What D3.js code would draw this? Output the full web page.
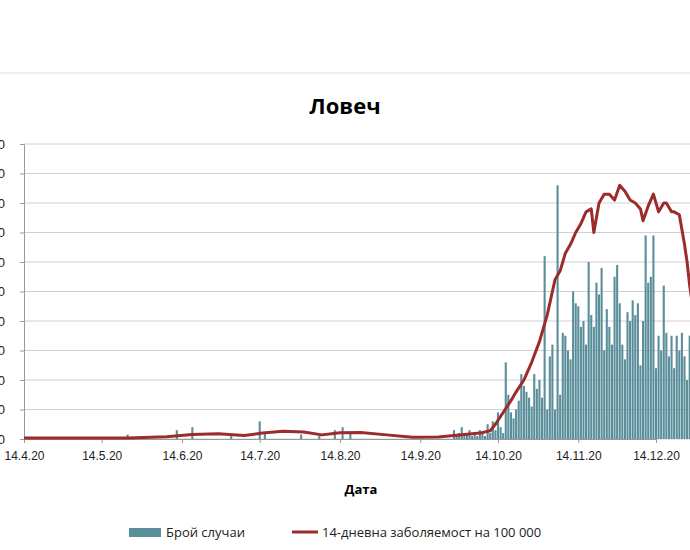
<!DOCTYPE html>
<html><head><meta charset="utf-8">
<script src="https://cdn.jsdelivr.net/npm/d3@7"></script>
<style>body{margin:0;background:#fff}svg{display:block;font-family:"Open Sans",Arial,sans-serif}</style>
</head><body><svg id="c" width="690" height="550"></svg>
<script>
const title = "Ловеч";
const xTitle = "Дата";
const seriesNames = ["Брой случаи", "14-дневна заболяемост на 100 000"];
const startDate = new Date(2020, 3, 14);
const tickDates = ["14.4.20","14.5.20","14.6.20","14.7.20","14.8.20","14.9.20","14.10.20","14.11.20","14.12.20"];
const yTicks = [0,10,20,30,40,50,60,70,80,90,100];
// sparse early cases: day offsets from 14.4.20 and values
const earlyDays = [40,59,65,80,91,93,107,114,120,123,126];
const earlyVals = [1.5,3,4,1,6,2,1.5,1,3,4,2];
// daily cases from day 166 onward
const lateStart = 166;
const lateVals = [3,1,2,4,1,2,3,1,2,1,3,2,1,5,2,6,3,9,4,2,
26,15,9,7,10,13,22,18,16,14,11,22,17,20,14,62,10,28,32,10,86,15,36,35,30,27,50,46,45,38,40,32,60,42,38,53,49,58,30,44,38,32,55,59,46,32,27,43,40,47,42,46,25,40,69,53,55,69,24,35,30,52,36,28,35,24,35,30,36,28,20,35,10];
// 14-day incidence line: day offsets and values
const lineDays = [0,40,55,65,75,85,92,100,108,115,122,130,140,150,160,170,176,180,182,185,188,190,193,196,199,202,205,207,209,211,213,215,217,219,220,222,224,226,228,230,232,234,236,238,239,241,243,245,247,248,250,251,253,255,256,257,259];
const lineVals = [0.3,0.3,0.8,1.5,1.8,1.2,2,2.6,2.4,1.4,2.1,2.2,1.4,0.6,0.7,1.5,2,2.8,5,9,13,16,20,26,33,42,54,57,63,66,70,73,77,78,70,80,83,83,81,86,84,81,80,78,74,79,83,77,80,80,77,77,76,66,60,52,40];

const svg = d3.select("#c");
const day = d => d3.timeDay.offset(startDate, d);
const x = d3.scaleTime().domain([startDate, day(244)]).range([24, 656]);
const y = d3.scaleLinear().domain([0,100]).range([439,144]);
const teal = "#5b8e9b", red = "#9c2b2b";

svg.append("line").attr("x1",0).attr("x2",690).attr("y1",73).attr("y2",73).attr("stroke","#ddd");
svg.append("text").attr("x",345).attr("y",114).attr("text-anchor","middle").attr("font-size",22).attr("font-weight","bold").text(title);

const g = svg.append("g");
g.selectAll(".grid").data(yTicks).join("line").attr("x1",24).attr("x2",690)
 .attr("y1",d=>y(d)).attr("y2",d=>y(d)).attr("stroke","#d0d0d0");
g.append("g").attr("transform","translate(24,0)")
 .call(d3.axisLeft(y).tickValues(yTicks).tickSize(4).tickPadding(15))
 .call(a=>{a.select(".domain").attr("stroke","#999");a.selectAll("line").attr("stroke","#999");
   a.selectAll("text").attr("font-size",13).attr("fill","#222");});

const bars = earlyDays.map((d,i)=>({d, v:earlyVals[i]}))
 .concat(lateVals.map((v,i)=>({d:lateStart+i, v})));
const bw = 2.1;
g.selectAll(".bar").data(bars).join("rect").attr("x",d=>x(day(d.d))-bw/2).attr("width",bw)
 .attr("y",d=>y(d.v)).attr("height",d=>y(0)-y(d.v)).attr("fill",teal);

const parse = s => { const [dd,mm,yy] = s.split("."); return new Date(2000+ +yy, mm-1, +dd); };
g.append("g").attr("transform","translate(0,439)")
 .call(d3.axisBottom(x).tickValues(tickDates.map(parse)).tickFormat((d,i)=>tickDates[i]).tickSize(4).tickPadding(8))
 .call(a=>{a.select(".domain").attr("stroke","#999");a.selectAll("line").attr("stroke","#999");
   a.selectAll("text").attr("font-size",12).attr("fill","#222");});

g.append("path").datum(lineDays.map((d,i)=>[d,lineVals[i]]))
 .attr("fill","none").attr("stroke",red).attr("stroke-width",3).attr("stroke-linejoin","round")
 .attr("d", d3.line().x(d=>x(day(d[0]))).y(d=>y(d[1])));

svg.append("text").attr("x",361).attr("y",494).attr("text-anchor","middle").attr("font-size",13).attr("font-weight","bold").text(xTitle);

svg.append("rect").attr("x",129).attr("y",528).attr("width",32).attr("height",9).attr("fill",teal);
svg.append("text").attr("x",166).attr("y",537).attr("font-size",13).attr("fill","#222").text(seriesNames[0]);
svg.append("line").attr("x1",292).attr("x2",318).attr("y1",532).attr("y2",532).attr("stroke",red).attr("stroke-width",3);
svg.append("text").attr("x",322).attr("y",537).attr("font-size",13).attr("fill","#222").text(seriesNames[1]);
</script></body></html>
